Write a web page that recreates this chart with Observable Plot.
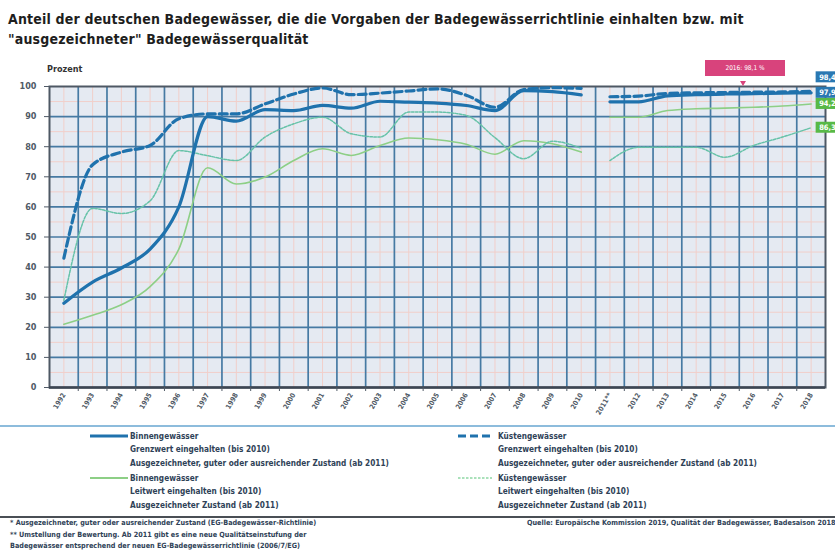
<!DOCTYPE html>
<html>
<head>
<meta charset="utf-8">
<script src="https://cdn.jsdelivr.net/npm/d3@7"></script>
<script src="https://cdn.jsdelivr.net/npm/@observablehq/plot@0.6"></script>
<style>
  body { margin: 0; background: #fff; }
  #wrap { position: relative; width: 835px; height: 551px; overflow: hidden;
          font-family: "DejaVu Sans Condensed", "DejaVu Sans", sans-serif; font-stretch: condensed; }
  .abs { position: absolute; white-space: nowrap; }
  #title { left: 8px; top: 9px; font-weight: bold; font-size: 14px; letter-spacing: 0.18px; line-height: 20px; color: #1e1e1e; }
  #ylab { left: 47px; top: 64px; font-weight: bold; font-size: 9px; color: #333; }
  #chart { left: 0; top: 55px; }
  .sep1 { left: 0; top: 425px; width: 835px; height: 2px; background: #8dbcdc; }
  .sep2 { left: 0; top: 516px; width: 835px; height: 2px; background: #4a4f55; }
  .lg { font-size: 8.2px; font-weight: bold; line-height: 13.5px; color: #2f4257; }
  .fn { font-size: 7.2px; font-weight: bold; line-height: 11.5px; color: #2f4257; }
  #pink { left: 705px; top: 60px; width: 80px; height: 16px; background: #d8437c; color: #fff;
          font-size: 6.5px; line-height: 16px; text-align: center; }
  #pinktri { left: 740px; top: 81px; width: 0; height: 0; border-left: 3px solid transparent;
             border-right: 3px solid transparent; border-top: 5px solid #d8437c; }
  .sw { position: absolute; }
</style>
</head>
<body>
<div id="wrap">
  <div id="title" class="abs">Anteil der deutschen Badegewässer, die die Vorgaben der Badegewässerrichtlinie einhalten bzw. mit<br>"ausgezeichneter" Badegewässerqualität</div>
  <div id="ylab" class="abs">Prozent</div>
  <div id="chart" class="abs"></div>
  <div id="pink" class="abs">2016: 98,1 %</div>
  <div id="pinktri" class="abs"></div>
  <div class="abs sep1"></div>
  <div id="legend"></div>
  <div class="abs sep2"></div>
  <div class="abs fn" style="left:10px;top:517px">* Ausgezeichneter, guter oder ausreichender Zustand (EG-Badegewässer-Richtlinie)<br>** Umstellung der Bewertung. Ab 2011 gibt es eine neue Qualitätseinstufung der<br>Badegewässer entsprechend der neuen EG-Badegewässerrichtlinie (2006/7/EG)</div>
  <div class="abs fn" style="left:527px;top:517px">Quelle: Europäische Kommission 2019, Qualität der Badegewässer, Badesaison 2018</div>
</div>
<script>
// ---- data ----
const years = ["1992","1993","1994","1995","1996","1997","1998","1999","2000","2001","2002","2003","2004","2005","2006","2007","2008","2009","2010","2011**","2012","2013","2014","2015","2016","2017","2018"];
const binnenGrenzwert = [28, 35, 39.7, 46, 60, 90, 88.5, 92.3, 92, 93.7, 92.8, 95.1, 94.8, 94.5, 93.7, 92, 98.6, 98.3, 97.2, 94.9, 94.9, 96.9, 97.3, 97.5, 97.6, 97.8, 97.9];
const kuestenGrenzwert = [43, 74, 78.2, 80.4, 89.3, 90.9, 90.9, 94.2, 97.5, 99.5, 97.3, 97.8, 98.5, 99.2, 97.1, 93.1, 99, 99.6, 99.4, 96.6, 96.8, 97.7, 97.9, 98, 98.1, 98.2, 98.4];
const binnenLeitwert = [21, 24, 27.5, 33.5, 46, 73, 67.6, 69.9, 75.4, 79.3, 77.1, 80.4, 82.9, 82.3, 80.8, 77.5, 82, 81, 78.2, 89.8, 89.8, 92, 92.6, 92.8, 93.1, 93.5, 94.2];
const kuestenLeitwert = [29, 59.5, 57.8, 62, 78.7, 77, 75.4, 83.2, 87.6, 89.8, 84.3, 83.2, 91.5, 91.5, 90.4, 83, 76, 81.8, 79.5, 75.4, 79.8, 79.8, 79.8, 76.5, 80.4, 83.2, 86.3];
const yTicks = [0, 10, 20, 30, 40, 50, 60, 70, 80, 90, 100];
const legendItems = [
  {col: 0, row: 0, dash: null, color: "#1f72ad", w: 3.2, lines: ["Binnengewässer", "Grenzwert eingehalten (bis 2010)", "Ausgezeichneter, guter oder ausreichender Zustand (ab 2011)"]},
  {col: 1, row: 0, dash: "8,4", color: "#1f72ad", w: 3.2, lines: ["Küstengewässer", "Grenzwert eingehalten (bis 2010)", "Ausgezeichneter, guter oder ausreichender Zustand (ab 2011)"]},
  {col: 0, row: 1, dash: null, color: "#8dcf86", w: 1.8, lines: ["Binnengewässer", "Leitwert eingehalten (bis 2010)", "Ausgezeichneter Zustand (ab 2011)"]},
  {col: 1, row: 1, dash: "2.5,1.5", color: "#8ed8a4", w: 1.6, lines: ["Küstengewässer", "Leitwert eingehalten (bis 2010)", "Ausgezeichneter Zustand (ab 2011)"]}
];

// ---- build tables ----
const idx = years.map((_, i) => i);
const breakAt = years.indexOf("2011**");
const rows = (vals) => vals.map((v, i) => ({i, v, seg: i < breakAt ? "bis 2010" : "ab 2011"}));
const BG = rows(binnenGrenzwert), KG = rows(kuestenGrenzwert), BL = rows(binnenLeitwert), KL = rows(kuestenLeitwert);
const last = idx.length - 1;
const fmt = v => v.toFixed(1).replace(".", ",");
const endLabels = [
  {i: last, v: kuestenGrenzwert[last], c: "#2a78b2", top: true},
  {i: last, v: binnenGrenzwert[last], c: "#2a78b2", top: false},
  {i: last, v: binnenLeitwert[last], c: "#58b947", top: false},
  {i: last, v: kuestenLeitwert[last], c: "#58b947", top: false}
];
const boundaries = idx.slice(1).map(i => i - 0.5);
const minorY = d3.range(5, 100, 10);
const majorY = d3.range(10, 100, 10);

const blue = "#1f72ad", greenA = "#8dcf86", greenB = "#66c2a8";
const boxOpts = {x1: "i", x2: "i", y1: "v", y2: "v", fill: "c", insetLeft: 5, insetRight: -35, insetTop: -5.5, insetBottom: -5.5};
const txtOpts = {x: "i", y: "v", text: d => fmt(d.v), fill: "white", textAnchor: "start", dx: 8, fontSize: 7.5, fontWeight: "bold"};

const chart = Plot.plot({
  width: 835, height: 365,
  marginTop: 31, marginBottom: 33, marginLeft: 49, marginRight: 10,
  style: {fontFamily: "'DejaVu Sans Condensed','DejaVu Sans',sans-serif", fontSize: "9px", color: "#505a66", background: "transparent", overflow: "visible"},
  x: {domain: [-0.5, idx.length - 0.5]},
  y: {domain: [0, 100]},
  marks: [
    Plot.frame({fill: "#e5eaf2"}),
    Plot.ruleY(minorY, {stroke: "#f1cfca", strokeWidth: 1}),
    Plot.ruleX(idx, {stroke: "#f1cfca", strokeWidth: 1}),
    Plot.ruleY(majorY, {stroke: "#467aa3", strokeWidth: 1.7}),
    Plot.ruleX(boundaries, {stroke: "#467aa3", strokeWidth: 1.7}),
    Plot.frame({stroke: "#4e5864", strokeWidth: 2}),
    Plot.ruleY([0], {stroke: "#3c4653", strokeWidth: 2.5}),
    Plot.line(BL, {x: "i", y: "v", z: "seg", stroke: greenA, strokeWidth: 1.6, curve: "monotone-x"}),
    Plot.line(KL, {x: "i", y: "v", z: "seg", stroke: greenB, strokeWidth: 1.5, strokeDasharray: "2.5,1.5", curve: "monotone-x"}),
    Plot.line(BG, {x: "i", y: "v", z: "seg", stroke: blue, strokeWidth: 3.2, curve: "monotone-x"}),
    Plot.line(KG, {x: "i", y: "v", z: "seg", stroke: blue, strokeWidth: 3.2, strokeDasharray: "8,4", curve: "monotone-x"}),
    Plot.rect(endLabels, {...boxOpts, filter: d => d.top, dy: -14}),
    Plot.rect(endLabels, {...boxOpts, filter: d => !d.top}),
    Plot.text(endLabels, {...txtOpts, filter: d => d.top, dy: -14}),
    Plot.text(endLabels, {...txtOpts, filter: d => !d.top}),
    Plot.axisY({ticks: yTicks, tickSize: 5, tickPadding: 8, fontWeight: "bold", fontSize: 9, label: null}),
    Plot.axisX({ticks: boundaries, tickSize: 4, tickFormat: () => "", label: null}),
    Plot.axisX({ticks: idx, tickSize: 0, tickPadding: 6, tickRotate: -60, tickFormat: i => years[i], fontWeight: "bold", fontSize: 7, label: null})
  ]
});
document.getElementById("chart").appendChild(chart);

// ---- legend ----
const lg = document.getElementById("legend");
const colX = [90, 458], rowY = [429, 471], lineLen = [38, 34], textGap = [40, 40];
legendItems.forEach(it => {
  const x = colX[it.col], y = rowY[it.row];
  const svg = d3.create("svg").attr("class", "sw").attr("width", lineLen[it.col]).attr("height", 14)
    .style("left", x + "px").style("top", y + "px");
  svg.append("line").attr("x1", 0).attr("x2", lineLen[it.col]).attr("y1", 7).attr("y2", 7)
    .attr("stroke", it.color).attr("stroke-width", it.w).attr("stroke-dasharray", it.dash);
  lg.appendChild(svg.node());
  const d = document.createElement("div");
  d.className = "abs lg";
  d.style.left = (x + textGap[it.col]) + "px";
  d.style.top = (y + 0.5) + "px";
  d.innerHTML = it.lines.join("<br>");
  lg.appendChild(d);
});
</script>
</body>
</html>
